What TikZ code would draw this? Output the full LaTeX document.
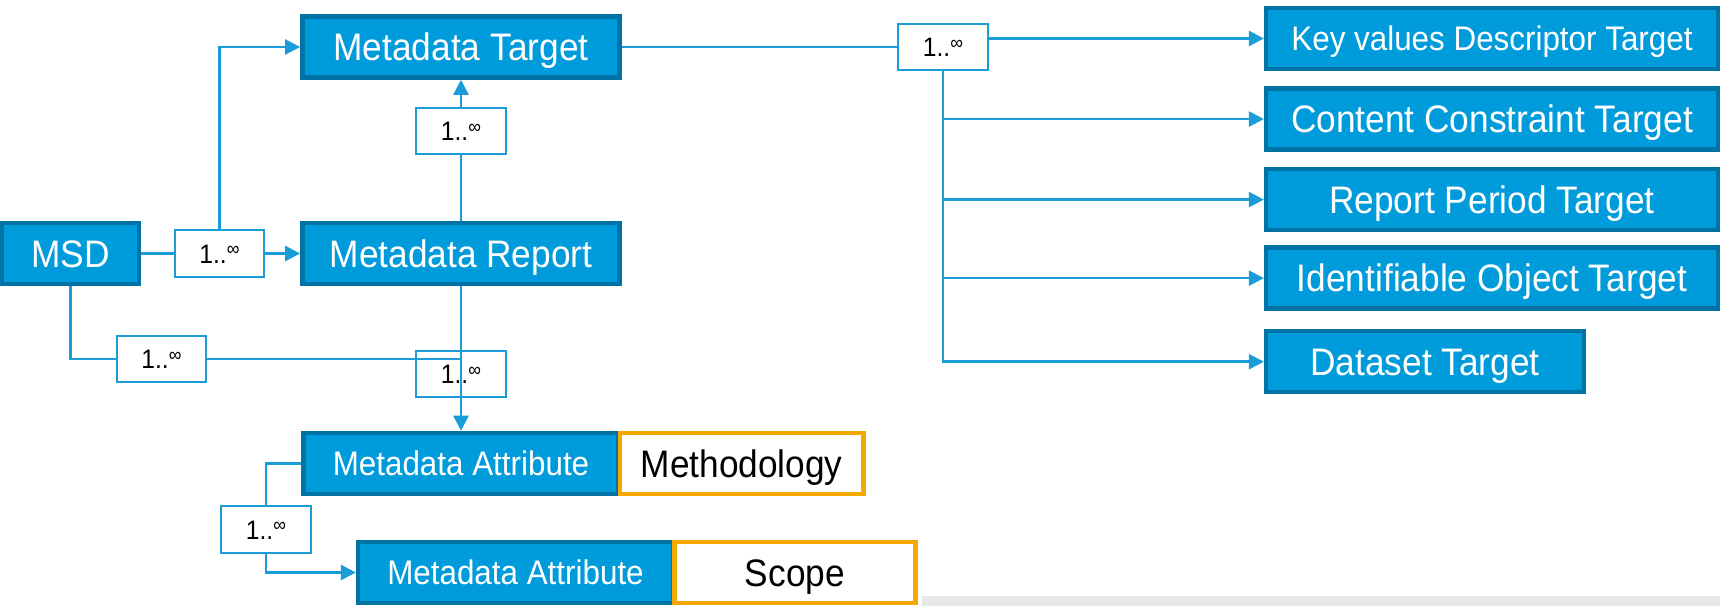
\documentclass[tikz,border=0pt]{standalone}
\usepackage{fontspec}
\setmainfont{Liberation Sans}[FakeStretch=0.92]
\usetikzlibrary{positioning,arrows.meta}
\definecolor{boxblue}{HTML}{009BDB}
\definecolor{boxedge}{HTML}{0072A3}
\definecolor{linkblue}{HTML}{1A9CD9}
\definecolor{tagorange}{HTML}{F5A800}
\newcommand{\mult}{1..\raisebox{.5ex}{\fontsize{5.5}{5.5}\selectfont ∞}}

\begin{document}
\begin{tikzpicture}[x=0.01cm, y=-0.01cm, node distance=0.15cm,
    cls/.style={draw=boxedge, fill=boxblue, line width=0.045cm, text=white,
        font=\fontsize{10.9}{13}\selectfont, text height=0.27cm, text depth=0pt,
        minimum height=0.61cm, inner sep=0pt},
    small/.style={font=\fontsize{9.7}{12}\selectfont, text height=0.245cm},
    tag/.style={draw=tagorange, fill=white, line width=0.045cm,
        font=\fontsize{10.9}{13}\selectfont, text height=0.27cm, text depth=0pt,
        minimum height=0.61cm, inner sep=0pt},
    card/.style={draw=linkblue, fill=white, line width=0.02cm, font=\fontsize{7.6}{9}\selectfont,
        text height=0.19cm, text depth=0pt,
        minimum width=0.89cm, minimum height=0.46cm, inner sep=0pt},
    link/.style={draw=linkblue, line width=0.025cm},
    >={Triangle[length=0.15cm, width=0.15cm]}]
    \useasboundingbox (0,0) rectangle (1720,606);
    \fill[black!9] (922,596) rectangle (1720,606);

    % left part
    \node[cls, minimum width=1.365cm](msd) at (70.5,253.5) {MSD};
    \node[cls, minimum width=3.17cm](mreport) at (461,253.5) {Metadata Report};
    \node[cls, minimum width=3.17cm](mtarget) at (461,47) {Metadata Target};
    \node[cls, small, minimum width=3.145cm](mattr) at (461,463.5) {Metadata Attribute};
    \node[tag, minimum width=2.435cm](method)[right=-0.03cm of mattr] {Methodology};
    \node[cls, small, minimum width=3.145cm](mattr2) at (515.5,572.5) {Metadata Attribute};
    \node[tag, minimum width=2.41cm](scope)[right=-0.03cm of mattr2] {Scope};

    % targets
    \node[cls, small, minimum width=4.515cm](kvdt) at (1492,38.5) {Key values Descriptor Target};
    \node[cls, minimum width=4.515cm](cct)[below=of kvdt] {Content Constraint Target};
    \node[cls, minimum width=4.515cm](rpt)[below=of cct] {Report Period Target};
    \node[cls, minimum width=4.515cm](iot)[below=0.13cm of rpt] {Identifiable Object Target};
    \node[cls, minimum width=3.175cm](dtarget)[below right=0.18cm and 0cm of iot.south west] {Dataset Target};

    % cardinalities
    \node[card](c1) at (219.5,253.5) {\mult};
    \node[card](c2) at (461,131) {\mult};
    \node[card](c3) at (161.5,359) {\mult};
    \node[card, fill=none](c4) at (461,374) {\mult};
    \node[card](c5) at (266,529.5) {\mult};
    \node[card](c6) at (943,47) {\mult};
    \coordinate (join) at (c4 |- c3);

    \draw[link] (msd) -- (c1);
    \draw[link,->] (c1) -- (mreport);
    \draw[link,->] (c1) |- (mtarget);
    \draw[link] (mreport) -- (c2);
    \draw[link,->] (c2) -- (mtarget);
    \draw[link] (msd) |- (c3);
    \draw[link] (c3) -- (join);
    \draw[link,->] (mreport) -- (mattr);
    \draw[link] (mattr.west) -| (c5);
    \draw[link,->] (c5) |- (mattr2);
    \draw[link] (mtarget) -- (c6);
    \draw[link,->] (c6.east |- kvdt) -- (kvdt);
    \draw[link,->] (c6) |- (dtarget);
    \foreach \t in {cct,rpt,iot}
        \draw[link,->] (c6 |- \t) -- (\t);
\end{tikzpicture}
\end{document}
